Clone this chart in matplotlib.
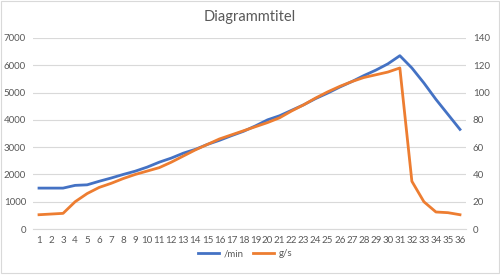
import matplotlib.pyplot as plt
from matplotlib.patches import Rectangle

plt.rcParams['font.family'] = ['Lato', 'DejaVu Sans']

categories = list(range(1, 37))
per_min = [1500, 1500, 1500, 1600, 1620, 1750, 1870, 2000, 2120, 2270,
           2450, 2600, 2780, 2920, 3100, 3250, 3420, 3580, 3780, 4000,
           4150, 4350, 4550, 4780, 4980, 5200, 5400, 5620, 5820, 6050,
           6350, 5900, 5350, 4750, 4200, 3650]
g_per_s = [10.5, 11, 11.5, 20, 26, 30.5, 33.5, 37, 40, 42.5,
           45, 49, 53.5, 58, 62, 66, 69, 72, 75, 78,
           81.5, 86.5, 91, 96, 100.5, 104.5, 108, 111, 113, 115,
           118, 35, 20, 12.5, 12, 10.5]

BLUE = "#4472C4"
ORANGE = "#ED7D31"
GRAY = "#595959"

fig = plt.figure(figsize=(5, 2.79), dpi=100)
ax = fig.add_axes([0.066, 0.179, 0.866, 0.685])
ax2 = ax.twinx()

l1, = ax.plot(categories, per_min, color=BLUE, lw=2, label="/min", zorder=3)
l2, = ax2.plot(categories, g_per_s, color=ORANGE, lw=2, label="g/s", zorder=3)

ax.set_xlim(0.5, 36.5)
ax.set_ylim(0, 7000)
ax2.set_ylim(0, 140)
ax.set_yticks(range(0, 7001, 1000))
ax2.set_yticks(range(0, 141, 20))
ax.set_xticks(categories)

ax.grid(axis="y", color="#D9D9D9", lw=0.8)
ax.set_axisbelow(True)
for a in (ax, ax2):
    for s in a.spines.values():
        s.set_visible(False)
    a.tick_params(length=0, labelsize=7, labelcolor=GRAY)
ax.spines["bottom"].set_visible(True)
ax.spines["bottom"].set_color("#D9D9D9")
ax.tick_params(axis="y", pad=5)
ax2.tick_params(axis="y", pad=5)
ax.tick_params(axis="x", pad=5)

fig.suptitle("Diagrammtitel", y=0.965, fontsize=10.5, color=GRAY)

fig.legend(handles=[l1, l2], loc="center", bbox_to_anchor=(0.49, 0.09),
           ncol=2, frameon=False, fontsize=7, labelcolor=GRAY,
           handlelength=2.2, handletextpad=0.4, columnspacing=1.0)

fig.patches.append(Rectangle((0.002, 0.02), 0.996, 0.975, transform=fig.transFigure,
                             fill=False, edgecolor="#D9D9D9", lw=0.8))

fig.savefig("out.png", dpi=100)
